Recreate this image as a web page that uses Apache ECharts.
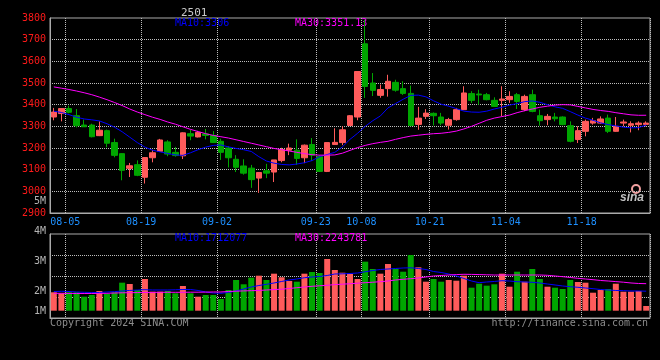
<!DOCTYPE html>
<html><head><meta charset="utf-8">
<script src="https://cdn.jsdelivr.net/npm/echarts@6/dist/echarts.min.js"></script>
<style>html,body{margin:0;padding:0;background:#000}#c{width:660px;height:360px}</style>
</head><body><div id="c"></div>
<script>
const dates = ['08-01','08-02','08-05','08-06','08-07','08-08','08-09','08-12','08-13','08-14','08-15','08-16','08-19','08-20','08-21','08-22','08-23','08-26','08-27','08-28','08-29','08-30','09-02','09-03','09-04','09-05','09-06','09-09','09-10','09-11','09-12','09-13','09-18','09-19','09-20','09-23','09-24','09-25','09-26','09-27','09-30','10-08','10-09','10-10','10-11','10-14','10-15','10-16','10-17','10-18','10-21','10-22','10-23','10-24','10-25','10-28','10-29','10-30','10-31','11-01','11-04','11-05','11-06','11-07','11-08','11-11','11-12','11-13','11-14','11-15','11-18','11-19','11-20','11-21','11-22','11-25','11-26','11-27','11-28'];
const tickDates = ['08-05','08-19','09-02','09-23','10-08','10-21','11-04','11-18'];
const priceTicks = [2900,3000,3100,3200,3300,3400,3500,3600,3700,3800];
const volTicks = ['1M','2M','3M','4M','5M'];
const open  = [3343,3359,3382,3349,3306,3306,3257,3280,3225,3174,3106,3123,3065,3155,3185,3228,3180,3164,3266,3251,3265,3258,3231,3200,3148,3117,3107,3061,3095,3089,3142,3190,3190,3155,3216,3160,3092,3216,3225,3304,3343,3681,3500,3443,3474,3503,3474,3452,3309,3346,3360,3343,3305,3331,3377,3451,3449,3446,3420,3420,3423,3446,3377,3446,3349,3331,3343,3343,3303,3239,3277,3315,3315,3338,3277,3315,3305,3308,3309];
const close = [3366,3382,3365,3303,3298,3252,3282,3222,3166,3097,3118,3074,3156,3178,3237,3172,3165,3270,3255,3272,3258,3225,3180,3155,3111,3084,3054,3087,3084,3145,3193,3200,3152,3213,3167,3092,3225,3226,3284,3349,3553,3484,3466,3470,3508,3467,3452,3304,3338,3361,3349,3315,3331,3377,3454,3420,3445,3423,3392,3426,3438,3415,3438,3369,3326,3346,3335,3308,3231,3280,3323,3326,3334,3277,3300,3320,3312,3315,3315];
const low   = [3328,3323,3360,3295,3297,3249,3255,3203,3157,3051,3066,3070,3036,3134,3183,3162,3160,3149,3236,3249,3240,3223,3145,3110,3089,3077,3016,2993,3061,3043,3134,3167,3122,3130,3140,3089,3089,3216,3213,3301,3328,3431,3440,3432,3437,3460,3445,3300,3284,3334,3304,3305,3285,3326,3375,3408,3400,3420,3390,3346,3408,3380,3370,3365,3303,3305,3323,3305,3226,3223,3254,3308,3312,3269,3275,3300,3272,3282,3300];
const high  = [3385,3384,3395,3380,3331,3312,3323,3285,3243,3176,3131,3143,3158,3190,3242,3236,3205,3272,3285,3279,3288,3278,3243,3208,3167,3148,3122,3087,3127,3145,3201,3220,3240,3216,3246,3167,3225,3291,3300,3352,3553,3792,3546,3493,3538,3515,3508,3488,3390,3379,3364,3362,3339,3385,3485,3462,3469,3454,3434,3485,3462,3454,3446,3469,3377,3357,3362,3346,3323,3300,3331,3339,3346,3354,3343,3331,3323,3323,3323];
const ma10 = [3370,3364,3354,3342,3334,3330,3325,3312,3296,3275,3250,3225,3204,3190,3182,3175,3168,3166,3178,3192,3204,3212,3214,3205,3198,3192,3184,3160,3140,3130,3124,3122,3126,3132,3142,3160,3170,3180,3205,3240,3268,3300,3326,3348,3385,3405,3425,3443,3444,3436,3418,3402,3393,3382,3370,3366,3365,3370,3380,3388,3398,3405,3414,3417,3411,3400,3390,3383,3368,3352,3338,3328,3316,3308,3302,3296,3293,3294,3306];
const ma30 = [3482,3476,3470,3463,3455,3446,3435,3423,3410,3396,3380,3366,3354,3342,3332,3320,3310,3298,3286,3276,3266,3258,3252,3246,3238,3230,3222,3214,3206,3198,3192,3186,3180,3174,3169,3167,3167,3168,3176,3189,3202,3212,3220,3226,3231,3240,3248,3255,3259,3263,3266,3268,3272,3278,3288,3300,3314,3328,3338,3345,3352,3363,3372,3380,3388,3393,3398,3400,3399,3392,3385,3378,3373,3369,3363,3358,3353,3351,3351.13];
const volume = [1957000,1923000,1957000,1957000,1810000,1867000,2000000,1900000,1957000,2277000,2233000,2033000,2400000,1977000,1977000,2000000,1923000,2167000,1923000,1810000,1867000,1867000,1733000,2033000,2367000,2223000,2443000,2510000,2367000,2577000,2457000,2333000,2310000,2577000,2633000,2600000,3067000,2700000,2610000,2567000,2400000,2977000,2733000,2577000,2900000,2733000,2643000,3200000,2790000,2310000,2400000,2310000,2367000,2343000,2510000,2110000,2243000,2177000,2223000,2577000,2143000,2643000,2310000,2733000,2400000,2143000,2110000,2067000,2367000,2300000,2277000,1943000,2033000,2067000,2243000,1977000,1977000,2000000,1500000];
const volMa10 = [1983000,1990000,1983000,1967000,1957000,1950000,1950000,1967000,1977000,2000000,2017000,2033000,2043000,2033000,2033000,2033000,2040000,2050000,2050000,2017000,1967000,1933000,1923000,1950000,2000000,2067000,2133000,2183000,2223000,2267000,2317000,2367000,2400000,2443000,2467000,2483000,2517000,2567000,2573000,2583000,2600000,2640000,2683000,2717000,2733000,2750000,2767000,2773000,2750000,2717000,2650000,2617000,2567000,2500000,2417000,2333000,2277000,2300000,2317000,2343000,2333000,2310000,2300000,2290000,2267000,2233000,2200000,2167000,2143000,2123000,2100000,2077000,2050000,2033000,2017000,2010000,2000000,2000000,1993000];
const volMa30 = [1923000,1923000,1920000,1917000,1917000,1917000,1920000,1923000,1933000,1940000,1943000,1947000,1950000,1953000,1957000,1957000,1957000,1957000,1960000,1960000,1963000,1967000,1967000,1983000,1993000,2003000,2010000,2017000,2033000,2047000,2060000,2083000,2110000,2133000,2157000,2173000,2190000,2213000,2227000,2243000,2260000,2277000,2293000,2310000,2333000,2367000,2390000,2410000,2433000,2467000,2500000,2517000,2533000,2547000,2557000,2553000,2547000,2540000,2533000,2533000,2533000,2533000,2533000,2533000,2533000,2523000,2500000,2477000,2450000,2423000,2400000,2377000,2350000,2333000,2313000,2293000,2267000,2250000,2243781];
const title = '2501';
const legendPrice = ['MA10:3306', 'MA30:3351.13'];
const legendVol = ['MA10:1712077', 'MA30:2243781'];

const UP = '#ff5b5b', DOWN = '#00a600', BLUE = '#0000ff', MAG = '#ff00ff';
const FONT = 'DejaVu Sans Mono';
const grid = '#bdbdbd';
const showTick = (i, v) => tickDates.indexOf(v) >= 0;
const candles = dates.map((d, i) => [open[i], close[i], low[i], high[i]]);
const volData = volume.map((v, i) => ({value: v, itemStyle: {color: close[i] >= open[i] ? UP : DOWN}}));

const chart = echarts.init(document.getElementById('c'), null, {renderer: 'canvas'});
chart.setOption({
  backgroundColor: '#000',
  animation: false,
  title: {text: title, left: 176, top: 3, textStyle: {color: '#c8c8c8', fontSize: 11, fontFamily: FONT, fontWeight: 'normal'}},
  grid: [
    {left: 50, top: 18, width: 600, height: 195, show: true, borderColor: '#aaa', borderWidth: 1},
    {left: 50, top: 234, width: 600, height: 84, show: true, borderColor: '#aaa', borderWidth: 1},
    {left: 50, top: 234, width: 600, height: 76.7},
    {left: 50, top: 201, width: 600, height: 120}
  ],
  xAxis: [
    {type: 'category', gridIndex: 0, data: dates, boundaryGap: true,
     axisLine: {lineStyle: {color: '#aaa'}}, axisTick: {show: false},
     axisLabel: {interval: showTick, margin: 4, color: '#1e90ff', fontFamily: FONT, fontSize: 10,
       formatter: v => '{a|' + v + '}',
       rich: {a: {padding: [0, 7.6, 0, 0], color: '#1e90ff', fontFamily: FONT, fontSize: 10}}},
     splitLine: {show: true, interval: showTick, lineStyle: {color: grid, type: 'dotted', width: 1}}},
    {type: 'category', gridIndex: 1, data: dates, boundaryGap: true,
     axisLine: {lineStyle: {color: '#aaa'}}, axisTick: {show: false}, axisLabel: {show: false},
     splitLine: {show: true, interval: showTick, lineStyle: {color: grid, type: 'dotted', width: 1}}},
    {type: 'category', gridIndex: 2, data: dates, boundaryGap: true, show: false},
    {type: 'category', gridIndex: 3, data: dates, show: false}
  ],
  yAxis: [
    {type: 'value', gridIndex: 0, min: priceTicks[0], max: priceTicks[priceTicks.length - 1], interval: 100,
     axisLine: {show: true, lineStyle: {color: '#aaa'}}, axisTick: {show: false},
     axisLabel: {color: '#ff1a1a', fontFamily: FONT, fontSize: 10, margin: 4, formatter: v => String(v)},
     splitLine: {show: true, showMinLine: false, showMaxLine: false, lineStyle: {color: grid, type: 'dotted', width: 1}}},
    {type: 'value', gridIndex: 1, min: 0, max: 4, interval: 1,
     axisLine: {show: true, lineStyle: {color: '#aaa'}}, axisTick: {show: false}, axisLabel: {show: false},
     splitLine: {show: true, showMinLine: false, showMaxLine: false, lineStyle: {color: grid, type: 'dotted', width: 1}}},
    {type: 'value', gridIndex: 2, min: 1343000, max: 3900000, show: false, splitLine: {show: false}},
    {type: 'value', gridIndex: 3, min: 1000000, max: 5000000, interval: 1000000,
     axisLine: {show: false}, axisTick: {show: false}, splitLine: {show: false},
     axisLabel: {color: '#b4b4b4', fontFamily: FONT, fontSize: 10, margin: 4,
       formatter: v => { const t = volTicks[Math.round(v / 1000000) - 1]; return v === 1000000 ? '{b|' + t + '}' : t; },
       rich: {b: {padding: [0, 0, 20, 0], color: '#b4b4b4', fontFamily: FONT, fontSize: 10}}}}
  ],
  series: [
    {type: 'candlestick', xAxisIndex: 0, yAxisIndex: 0, data: candles, barWidth: 6,
     itemStyle: {color: UP, color0: DOWN, borderColor: UP, borderColor0: DOWN, borderWidth: 1}},
    {type: 'line', xAxisIndex: 0, yAxisIndex: 0, data: ma10, symbol: 'none', lineStyle: {color: BLUE, width: 1}},
    {type: 'line', xAxisIndex: 0, yAxisIndex: 0, data: ma30, symbol: 'none', lineStyle: {color: MAG, width: 1}},
    {type: 'bar', xAxisIndex: 2, yAxisIndex: 2, data: volData, barWidth: 6, clip: true},
    {type: 'line', xAxisIndex: 2, yAxisIndex: 2, data: volMa10, symbol: 'none', lineStyle: {color: BLUE, width: 1}},
    {type: 'line', xAxisIndex: 2, yAxisIndex: 2, data: volMa30, symbol: 'none', lineStyle: {color: MAG, width: 1}}
  ],
  graphic: [
    {type: 'text', left: 175, top: 18, style: {text: legendPrice[0], fill: BLUE, font: '10px "' + FONT + '"'}},
    {type: 'text', left: 295, top: 18, style: {text: legendPrice[1], fill: MAG, font: '10px "' + FONT + '"'}},
    {type: 'text', left: 175, top: 233, style: {text: legendVol[0], fill: BLUE, font: '10px "' + FONT + '"'}},
    {type: 'text', left: 295, top: 233, style: {text: legendVol[1], fill: MAG, font: '10px "' + FONT + '"'}},
    {type: 'text', left: 50, top: 318, style: {text: 'Copyright 2024 SINA.COM', fill: '#8c8c8c', font: '10px "' + FONT + '"'}},
    {type: 'text', right: 12, top: 318, style: {text: 'http://finance.sina.com.cn', fill: '#8c8c8c', font: '10px "' + FONT + '"'}},
    {type: 'circle', shape: {cx: 636, cy: 189, r: 4}, style: {fill: 'none', stroke: '#f0a0a0', lineWidth: 2}},
    {type: 'text', left: 620, top: 192, style: {text: 'sina', fill: '#c0c0c0', font: 'italic bold 12px Arial'}}
  ]
});
</script></body></html>
